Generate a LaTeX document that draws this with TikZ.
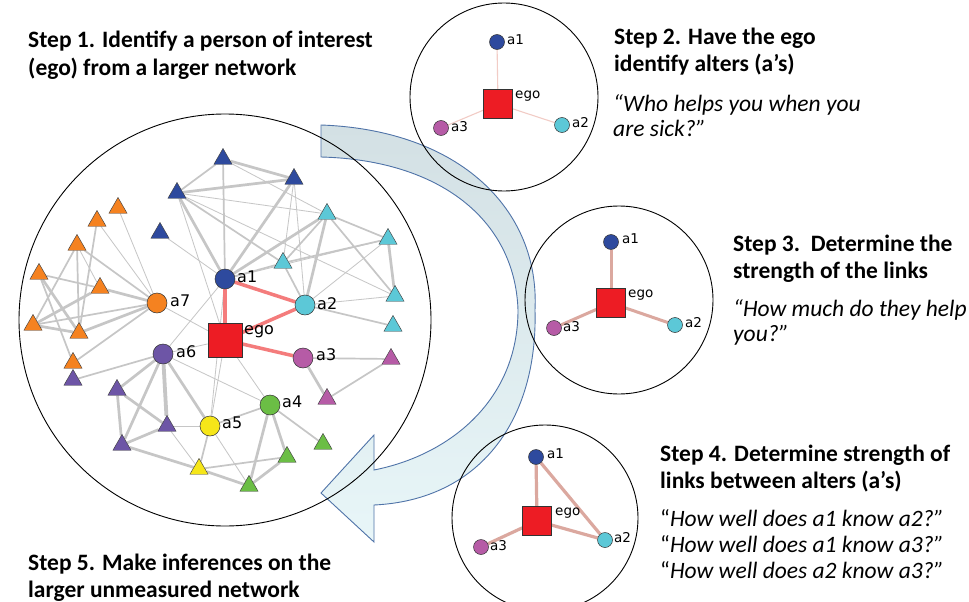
\documentclass[tikz,border=0pt]{standalone}
\usepackage{fontspec}
\setmainfont{Carlito}
\newfontfamily\labfont{DejaVu Sans}
\usetikzlibrary{shapes.geometric}
\definecolor{egored}{HTML}{ED1C24}
\definecolor{cblue}{HTML}{2E4A9E}
\definecolor{ccyan}{HTML}{5CC8D7}
\definecolor{cmag}{HTML}{B65BA6}
\definecolor{cgreen}{HTML}{6BBE45}
\definecolor{cyellow}{HTML}{F6E619}
\definecolor{cpurple}{HTML}{6D55A6}
\definecolor{corange}{HTML}{F58220}
\definecolor{redge}{HTML}{F47C7C}
\definecolor{gedge}{HTML}{C6C6C6}
\definecolor{pedge}{HTML}{DBA89F}
\definecolor{pedgelight}{HTML}{F2CCC6}
\definecolor{bandtop}{HTML}{D3E0E4}
\definecolor{bandbot}{HTML}{E8F6F8}
\definecolor{bandline}{HTML}{4F73A8}
\pgfdeclarelayer{back}
\pgfdeclarelayer{bg}
\pgfsetlayers{back,bg,main}
\tikzset{
  bigalter/.style={circle,draw=black!80,line width=0.5pt,minimum size=20pt,inner sep=0pt},
  smalter/.style={circle,draw=black!80,line width=0.5pt,minimum size=15pt,inner sep=0pt},
  bigego/.style={rectangle,draw=black!80,line width=0.5pt,fill=egored,minimum size=34pt,inner sep=0pt},
  smego/.style={rectangle,draw=black!80,line width=0.5pt,fill=egored,minimum size=29pt,inner sep=0pt},
  tri/.style={regular polygon,regular polygon sides=3,draw=black!75,line width=0.45pt,minimum size=21pt,inner sep=0pt},
  biglab/.style={anchor=west,inner sep=0pt,font=\labfont\fontsize{16}{19}\selectfont},
  smlab/.style={anchor=west,inner sep=0pt,font=\labfont\fontsize{13.5}{16}\selectfont},
  ttl/.style={anchor=base west,inner sep=0pt,font=\bfseries\fontsize{23.5}{27}\selectfont},
  qt/.style={anchor=base west,inner sep=0pt,font=\itshape\fontsize{23.5}{27}\selectfont},
  qtu/.style={anchor=base west,inner sep=0pt,font=\fontsize{23.5}{27}\selectfont},
  ewa/.style={draw=gedge,line width=0.8pt},
  ewb/.style={draw=gedge,line width=1.7pt},
  ewc/.style={draw=gedge,line width=2.7pt},
  ewd/.style={draw=gedge,line width=3.8pt},
  ered/.style={draw=redge,line width=3.5pt},
  ringline/.style={draw=black,line width=0.9pt},
}
\begin{document}
\begin{tikzpicture}[x=1pt,y=-1pt]
\useasboundingbox (0,0) rectangle (969,602);
\clip (0,0) rectangle (969,602);

% ---------- background and curved arrow ----------
\begin{pgfonlayer}{back}
\fill[white] (0,0) rectangle (969,602);
\shade[top color=bandtop,bottom color=bandbot,draw=bandline,line width=0.9pt,line join=miter]
  (321,125) .. controls (460,130) and (540,210) .. (535,310)
  .. controls (538,420) and (480,500) .. (374,505)
  -- (374,542) -- (321,493) -- (374,435) -- (374,470)
  .. controls (450,455) and (518,400) .. (518,310)
  .. controls (515,220) and (440,160) .. (321,157) -- cycle;
\end{pgfonlayer}

% ---------- texts ----------
\node[ttl] (t1a) at (28,48) {Step 1. Identify a person of interest};
\node[ttl] (t1b) at (28,75) {(ego) from a larger network};
\node[ttl] (t2a) at (614,45) {Step 2. Have the ego};
\node[ttl] (t2b) at (614,72) {identify alters (a’s)};
\node[qt] (q2a) at (613,111) {“Who helps you when you};
\node[qt] (q2b) at (613,136) {are sick?”};
\node[ttl] (t3a) at (733,251) {Step 3.\ \ Determine the};
\node[ttl] (t3b) at (733,278) {strength of the links};
\node[qt] (q3a) at (733,316) {“How much do they help};
\node[qt] (q3b) at (733,341) {you?”};
\node[ttl] (t4a) at (660,461) {Step 4. Determine strength of};
\node[ttl] (t4b) at (660,488) {links between alters (a’s)};
\node[qtu] (q4a) at (660,526) {“\textit{How well does a1 know a2?”}};
\node[qtu] (q4b) at (660,552) {“\textit{How well does a1 know a3?”}};
\node[qtu] (q4c) at (660,578) {“\textit{How well does a2 know a3?”}};
\node[ttl] (t5a) at (28,570) {Step 5. Make inferences on the};
\node[ttl] (t5b) at (28,597) {larger unmeasured network};

% ---------- rings ----------
\draw[ringline] (225,320) circle[radius=206pt];
\draw[ringline] (504,97) circle[radius=94pt];
\draw[ringline] (619,300) circle[radius=94pt];
\draw[ringline] (545,518) circle[radius=93pt];

% ---------- big network nodes ----------
\node[bigego] (ego) at (225,340) {};
\node[bigalter,fill=cblue] (a1) at (225,279) {};
\node[bigalter,fill=ccyan] (a2) at (305,305) {};
\node[bigalter,fill=cmag] (a3) at (303,358) {};
\node[bigalter,fill=cgreen] (a4) at (270,405) {};
\node[bigalter,fill=cyellow] (a5) at (210,426) {};
\node[bigalter,fill=cpurple] (a6) at (163,354) {};
\node[bigalter,fill=corange] (a7) at (157,303) {};
\node[biglab] (lego) at (244,332) {ego};
\node[biglab] (la1) at (237,277) {a1};
\node[biglab] (la2) at (317,304) {a2};
\node[biglab] (la3) at (316,355) {a3};
\node[biglab] (la4) at (282,402) {a4};
\node[biglab] (la5) at (222,423) {a5};
\node[biglab] (la6) at (176,352) {a6};
\node[biglab] (la7) at (170,301) {a7};

\node[tri,fill=cblue] (b1) at (177,193) {};
\node[tri,fill=cblue] (b2) at (160,233) {};
\node[tri,fill=cblue] (b3) at (223,159) {};
\node[tri,fill=cblue] (b4) at (294,179) {};
\node[tri,fill=ccyan] (c1) at (327,214) {};
\node[tri,fill=ccyan] (c2) at (388,239) {};
\node[tri,fill=ccyan] (c3) at (283,263) {};
\node[tri,fill=ccyan] (c4) at (395,296) {};
\node[tri,fill=ccyan] (c5) at (393,326) {};
\node[tri,fill=cmag] (m1) at (391,359) {};
\node[tri,fill=cmag] (m2) at (327,399) {};
\node[tri,fill=cgreen] (gr1) at (323,444) {};
\node[tri,fill=cgreen] (gr2) at (287,457) {};
\node[tri,fill=cgreen] (gr3) at (249,486) {};
\node[tri,fill=cyellow] (y1) at (199,469) {};
\node[tri,fill=cpurple] (p1) at (73,380) {};
\node[tri,fill=cpurple] (p2) at (117,390) {};
\node[tri,fill=cpurple] (p3) at (167,426) {};
\node[tri,fill=cpurple] (p4) at (122,445) {};
\node[tri,fill=corange] (o1) at (97,221) {};
\node[tri,fill=corange] (o2) at (118,208) {};
\node[tri,fill=corange] (o3) at (77,245) {};
\node[tri,fill=corange] (o4) at (39,274) {};
\node[tri,fill=corange] (o5) at (100,288) {};
\node[tri,fill=corange] (o6) at (33,325) {};
\node[tri,fill=corange] (o7) at (79,333) {};
\node[tri,fill=corange] (o8) at (73,363) {};

\begin{pgfonlayer}{bg}
\foreach \u/\v in {b1/c1,b1/c4,b1/ego,b2/a1,b4/a2,b4/c3,a1/c2,ego/a4,ego/a5,ego/a6,ego/a7,
  a1/a6,a6/a4,a5/gr3,p3/a5,p3/y1,a7/o1,a7/o2,o3/o5,c4/a2,c2/a2,a1/a5,b3/c1}
  \draw[ewa] (\u) -- (\v);
\foreach \u/\v in {b1/b3,b1/c3,b3/a1,a1/c3,c1/c3,c1/c2,c1/c4,c3/c2,c3/a2,c5/a2,a3/m1,m1/m2,
  a4/a5,a4/gr1,gr2/y1,a5/y1,a6/p1,a7/o3,a7/o6,a7/o8,o3/o6,o3/o7,o4/o5,o4/o8,o1/o7}
  \draw[ewb] (\u) -- (\v);
\foreach \u/\v in {b1/b4,b1/a1,b3/b4,b4/a1,a1/c1,c1/a2,c2/c4,a3/m2,a4/gr2,a4/gr3,gr2/gr3,gr3/y1,
  a6/p2,a6/p4,a6/a5,p2/p3,p2/p4,p3/p4,p4/y1,a7/o5,a7/o7,o4/o7,o5/o6,o6/o7}
  \draw[ewc] (\u) -- (\v);
\draw[ewd] (a6) -- (p3);
\foreach \u/\v in {a1/ego,a1/a2,a2/ego,a3/ego}
  \draw[ered] (\u) -- (\v);
\end{pgfonlayer}

% ---------- step 2 ego network ----------
\node[smego] (s2e) at (498,104) {};
\node[smalter,fill=cblue] (s2a1) at (497,42) {};
\node[smalter,fill=ccyan] (s2a2) at (562,125) {};
\node[smalter,fill=cmag] (s2a3) at (441,128) {};
\node[smlab] (s2le) at (515,96) {ego};
\node[smlab] (s2l1) at (507,40) {a1};
\node[smlab] (s2l2) at (572,123) {a2};
\node[smlab] (s2l3) at (451,127) {a3};
\begin{pgfonlayer}{bg}
\foreach \v in {s2a1,s2a2,s2a3} \draw[draw=pedgelight,line width=1.1pt] (s2e) -- (\v);
\end{pgfonlayer}

% ---------- step 3 ego network ----------
\node[smego] (s3e) at (611,303) {};
\node[smalter,fill=cblue] (s3a1) at (611,242) {};
\node[smalter,fill=ccyan] (s3a2) at (675,325) {};
\node[smalter,fill=cmag] (s3a3) at (554,328) {};
\node[smlab] (s3le) at (628,295) {ego};
\node[smlab] (s3l1) at (622,239) {a1};
\node[smlab] (s3l2) at (685,323) {a2};
\node[smlab] (s3l3) at (563,327) {a3};
\begin{pgfonlayer}{bg}
\foreach \v in {s3a1,s3a2,s3a3} \draw[draw=pedge,line width=3pt] (s3e) -- (\v);
\end{pgfonlayer}

% ---------- step 4 ego network ----------
\node[smego] (s4e) at (537,521) {};
\node[smalter,fill=cblue] (s4a1) at (536,457) {};
\node[smalter,fill=ccyan] (s4a2) at (605,540) {};
\node[smalter,fill=cmag] (s4a3) at (481,547) {};
\node[smlab] (s4le) at (555,513) {ego};
\node[smlab] (s4l1) at (547,454) {a1};
\node[smlab] (s4l2) at (614,538) {a2};
\node[smlab] (s4l3) at (490,546) {a3};
\begin{pgfonlayer}{bg}
\foreach \v in {s4a1,s4a2,s4a3} \draw[draw=pedge,line width=3.2pt] (s4e) -- (\v);
\draw[draw=pedge,line width=3.2pt] (s4a1) -- (s4a2);
\end{pgfonlayer}
\end{tikzpicture}
\end{document}
